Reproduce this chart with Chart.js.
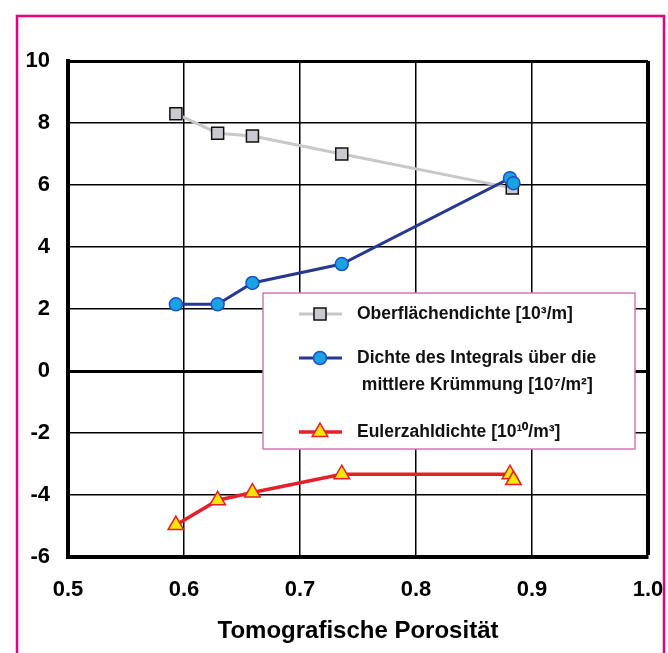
<!DOCTYPE html>
<html>
<head>
<meta charset="utf-8">
<script src="https://cdn.jsdelivr.net/npm/chart.js@4.4.1/dist/chart.umd.min.js"></script>
<style>
  html, body { margin: 0; padding: 0; background: #fff; }
  #wrap { position: relative; width: 668px; height: 653px; }
</style>
</head>
<body>
<div id="wrap"><canvas id="porosityChart" width="668" height="653"></canvas></div>
<script>
// Porosity values (x) per series
const xSurface = [0.593, 0.629, 0.659, 0.736, 0.883];
const xCurv = [0.593, 0.629, 0.659, 0.736, 0.881, 0.884];
const xEuler = [0.593, 0.629, 0.659, 0.736, 0.881, 0.884];

// Series values (y)
const ySurface = [8.3, 7.67, 7.58, 7.0, 5.9];
const yCurv = [2.15, 2.15, 2.84, 3.45, 6.22, 6.06];
const yEuler = [-4.97, -4.17, -3.92, -3.33, -3.33, -3.52];

// Axis ticks
const xTicks = [0.5, 0.6, 0.7, 0.8, 0.9, 1.0];
const yTicks = [-6, -4, -2, 0, 2, 4, 6, 8, 10];

const labels = [
    ['Oberflächendichte [10³/m]'],
    ['Dichte des Integrals über die', ' mittlere Krümmung [10⁷/m²]'],
    ['Eulerzahldichte [10¹⁰/m³]']
];

const FONT = "'Liberation Sans', Arial, sans-serif";
const toPoints = (xs, ys) => xs.map((x, i) => ({ x: x, y: ys[i] }));

// Pink page frame
const framePlugin = {
    id: 'frame',
    beforeDraw(chart) {
        const c = chart.ctx;
        c.save();
        c.strokeStyle = '#e5007d';
        c.lineWidth = 2.5;
        c.strokeRect(17, 16, 647, 700);
        c.restore();
    }
};

// Legend box inside the plot
const boxLegend = {
    id: 'boxLegend',
    afterDraw(chart) {
        const c = chart.ctx;
        const x0 = 263, y0 = 293, w = 372, h = 156;
        c.save();
        c.fillStyle = '#ffffff';
        c.fillRect(x0, y0, w, h);
        c.strokeStyle = '#d27ab8';
        c.lineWidth = 1.5;
        c.strokeRect(x0, y0, w, h);

        const rows = [314, 358, 432];
        chart.data.datasets.forEach((ds, i) => {
            const y = rows[i];
            c.strokeStyle = ds.borderColor;
            c.lineWidth = ds.borderWidth;
            c.beginPath();
            c.moveTo(299, y);
            c.lineTo(342, y);
            c.stroke();
            c.fillStyle = ds.pointBackgroundColor;
            c.strokeStyle = ds.pointBorderColor;
            c.lineWidth = ds.pointBorderWidth;
            Chart.helpers.drawPoint(c, { pointStyle: ds.pointStyle, radius: ds.pointRadius, rotation: 0, borderWidth: ds.pointBorderWidth }, 320, y);
            c.fillStyle = '#111';
            c.font = 'bold 17.5px ' + FONT;
            c.textBaseline = 'middle';
            labels[i].forEach((line, j) => {
                c.fillText(line, 357, y + j * 27);
            });
        });
        c.restore();
    }
};

const chart = new Chart(document.getElementById('porosityChart'), {
    type: 'scatter',
    data: {
        datasets: [{
            label: labels[0].join(' '),
            data: toPoints(xSurface, ySurface),
            showLine: true,
            borderColor: '#c8c8c8',
            borderWidth: 3,
            pointStyle: 'rect',
            pointRadius: 8.5,
            pointBackgroundColor: '#c9c9cf',
            pointBorderColor: '#111111',
            pointBorderWidth: 1.5,
            order: 2
        }, {
            label: labels[1].join(' '),
            data: toPoints(xCurv, yCurv),
            showLine: true,
            borderColor: '#27398f',
            borderWidth: 3,
            pointStyle: 'circle',
            pointRadius: 6.5,
            pointBackgroundColor: '#1aa3e2',
            pointBorderColor: '#1f4fc4',
            pointBorderWidth: 1.5,
            order: 1
        }, {
            label: labels[2].join(' '),
            data: toPoints(xEuler, yEuler),
            showLine: true,
            borderColor: '#e4202c',
            borderWidth: 3.5,
            pointStyle: 'triangle',
            pointRadius: 9,
            pointBackgroundColor: '#ffe500',
            pointBorderColor: '#e4202c',
            pointBorderWidth: 1.5,
            order: 0
        }]
    },
    options: {
        responsive: false,
        animation: false,
        layout: { padding: { left: 0, top: 61, right: 20, bottom: 0 } },
        plugins: {
            legend: { display: false },
            tooltip: { enabled: false }
        },
        scales: {
            x: {
                type: 'linear',
                min: 0.5,
                max: 1.0,
                afterBuildTicks: (s) => { s.ticks = xTicks.map(v => ({ value: v })); },
                afterFit: (s) => {
                    s.height = 96;
                    s.paddingLeft = 0;
                    s.paddingRight = 0;
                },
                border: { color: '#000', width: 4 },
                grid: {
                    color: '#000',
                    drawTicks: false,
                    lineWidth: (ctx) => ctx.tick && ctx.tick.value >= 1.0 ? 4 : 1.5
                },
                ticks: {
                    color: '#000',
                    padding: 20,
                    font: { family: FONT, size: 22, weight: 'bold' },
                    callback: (v) => v.toFixed(1)
                },
                title: {
                    display: true,
                    text: 'Tomografische Porosität',
                    color: '#000',
                    font: { family: FONT, size: 24, weight: 'bold' },
                    padding: { top: 0, bottom: 7 }
                }
            },
            y: {
                type: 'linear',
                min: -6,
                max: 10,
                afterBuildTicks: (s) => { s.ticks = yTicks.map(v => ({ value: v })); },
                afterFit: (s) => {
                    s.width = 68;
                    s.paddingTop = 0;
                    s.paddingBottom = 0;
                },
                border: { color: '#000', width: 4 },
                grid: {
                    color: '#000',
                    drawTicks: false,
                    lineWidth: (ctx) => {
                        if (!ctx.tick) return 1.5;
                        if (ctx.tick.value === 0) return 3;
                        if (ctx.tick.value === 10) return 3;
                        return 1.5;
                    }
                },
                ticks: {
                    color: '#000',
                    padding: 18,
                    font: { family: FONT, size: 22, weight: 'bold' }
                }
            }
        }
    },
    plugins: [framePlugin, boxLegend]
});
</script>
</body>
</html>
